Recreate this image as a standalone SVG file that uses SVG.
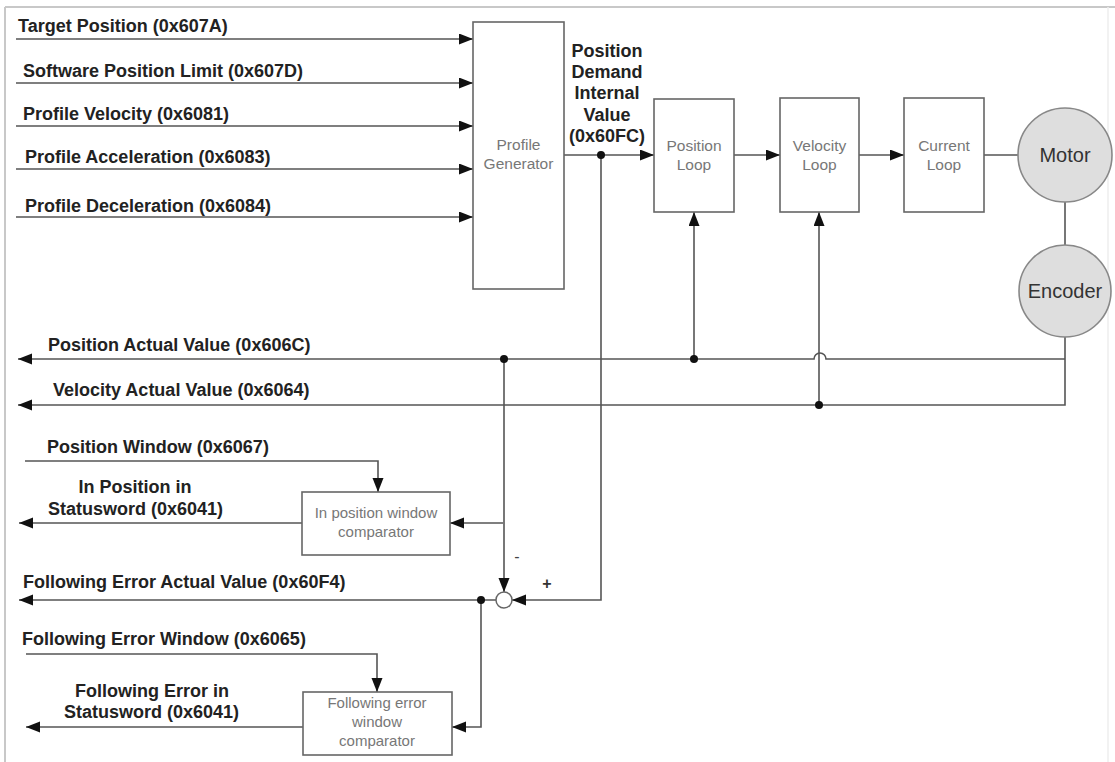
<svg xmlns="http://www.w3.org/2000/svg" width="1115" height="762" viewBox="0 0 1115 762">
<style>
.ln{fill:none;stroke:#555;stroke-width:1.6}
.bx{fill:#fff;stroke:#666;stroke-width:1.6}
.cir{fill:#dedede;stroke:#888;stroke-width:1.6}
.lb{font-family:"Liberation Sans",Arial,sans-serif;font-weight:bold;font-size:18px;fill:#222}
.bt{font-family:"Liberation Sans",Arial,sans-serif;font-size:15.5px;fill:#777;text-anchor:middle}
.ct{font-family:"Liberation Sans",Arial,sans-serif;font-size:15px;fill:#777;text-anchor:middle}
.mt{font-family:"Liberation Sans",Arial,sans-serif;font-size:20px;fill:#333;text-anchor:middle}
.dot{fill:#111}
</style>
<defs>
<marker id="arr" markerUnits="userSpaceOnUse" markerWidth="15" markerHeight="12" refX="14" refY="5.5" orient="auto">
<path d="M0,0 L14,5.5 L0,11 z" fill="#111"/>
</marker>
</defs>
<rect width="1115" height="762" fill="#fff"/>
<g id="frame">
<line x1="5" y1="7" x2="1115" y2="7" stroke="#c8c8c8" stroke-width="2"/>
<line x1="5" y1="7" x2="5" y2="762" stroke="#c8c8c8" stroke-width="2"/>
<line x1="1108" y1="7" x2="1108" y2="762" stroke="#eee" stroke-width="1.5"/>
</g>
<g id="connectors">
<line class="ln" x1="16" y1="39" x2="473" y2="39" marker-end="url(#arr)"/>
<line class="ln" x1="16" y1="83" x2="473" y2="83" marker-end="url(#arr)"/>
<line class="ln" x1="16" y1="126" x2="473" y2="126" marker-end="url(#arr)"/>
<line class="ln" x1="16" y1="169" x2="473" y2="169" marker-end="url(#arr)"/>
<line class="ln" x1="16" y1="217" x2="473" y2="217" marker-end="url(#arr)"/>
<line class="ln" x1="564" y1="155" x2="654" y2="155" marker-end="url(#arr)"/>
<line class="ln" x1="734" y1="155" x2="780" y2="155" marker-end="url(#arr)"/>
<line class="ln" x1="859" y1="155" x2="904" y2="155" marker-end="url(#arr)"/>
<line class="ln" x1="984" y1="155" x2="1018" y2="155"/>
<line class="ln" x1="1065" y1="202" x2="1065" y2="245"/>
<path class="ln" d="M1065,337 V405 H18" marker-end="url(#arr)"/>
<path class="ln" d="M1065,359 H826 A6,6 0 0 0 814,359 H18" marker-end="url(#arr)"/>
<path class="ln" d="M694,359 V212" marker-end="url(#arr)"/>
<path class="ln" d="M819,405 V212" marker-end="url(#arr)"/>
<path class="ln" d="M601,155 V600 H512" marker-end="url(#arr)"/>
<path class="ln" d="M504,359 V592" marker-end="url(#arr)"/>
<path class="ln" d="M503,523 H450" marker-end="url(#arr)"/>
<path class="ln" d="M302,523 H19" marker-end="url(#arr)"/>
<path class="ln" d="M25,461 H378 V492" marker-end="url(#arr)"/>
<path class="ln" d="M496,600 H19" marker-end="url(#arr)"/>
<path class="ln" d="M481,600 V727 H452" marker-end="url(#arr)"/>
<path class="ln" d="M26,654 H377 V692" marker-end="url(#arr)"/>
<path class="ln" d="M303,727 H26" marker-end="url(#arr)"/>
<circle class="dot" cx="601" cy="155" r="4"/>
<circle class="dot" cx="504" cy="359" r="4"/>
<circle class="dot" cx="694" cy="359" r="4"/>
<circle class="dot" cx="819" cy="405" r="4"/>
<circle class="dot" cx="481" cy="600" r="4"/>
</g>
<g id="labels">
<text class="lb" x="18" y="32">Target Position (0x607A)</text>
<text class="lb" x="23" y="77">Software Position Limit (0x607D)</text>
<text class="lb" x="23" y="120">Profile Velocity (0x6081)</text>
<text class="lb" x="25" y="163">Profile Acceleration (0x6083)</text>
<text class="lb" x="25" y="212">Profile Deceleration (0x6084)</text>
<text class="lb" x="607" y="57" text-anchor="middle">Position</text>
<text class="lb" x="607" y="78" text-anchor="middle">Demand</text>
<text class="lb" x="607" y="99" text-anchor="middle">Internal</text>
<text class="lb" x="607" y="121" text-anchor="middle">Value</text>
<text class="lb" x="607" y="142" text-anchor="middle">(0x60FC)</text>
<text class="lb" x="48" y="351">Position Actual Value (0x606C)</text>
<text class="lb" x="53" y="396">Velocity Actual Value (0x6064)</text>
<text class="lb" x="47" y="453">Position Window (0x6067)</text>
<text class="lb" x="135" y="493" text-anchor="middle">In Position in</text>
<text class="lb" x="48" y="515">Statusword (0x6041)</text>
<text class="lb" x="23" y="588">Following Error Actual Value (0x60F4)</text>
<text class="lb" x="22" y="645">Following Error Window (0x6065)</text>
<text class="lb" x="152" y="697" text-anchor="middle">Following Error in</text>
<text class="lb" x="64" y="718">Statusword (0x6041)</text>
<text x="517" y="562" font-family="Liberation Sans, Arial, sans-serif" font-size="16" fill="#444" text-anchor="middle">-</text>
<text x="547" y="589" font-family="Liberation Sans, Arial, sans-serif" font-size="16" font-weight="bold" fill="#333" text-anchor="middle">+</text>
</g>
<g id="profile-generator">
<rect class="bx" x="473" y="22" width="91" height="267"/>
<text class="bt" x="518.5" y="150">Profile</text>
<text class="bt" x="518.5" y="169">Generator</text>
</g>
<g id="position-loop">
<rect class="bx" x="654" y="99" width="80" height="113"/>
<text class="bt" x="694" y="151">Position</text>
<text class="bt" x="694" y="170">Loop</text>
</g>
<g id="velocity-loop">
<rect class="bx" x="780" y="98" width="79" height="114"/>
<text class="bt" x="819.5" y="151">Velocity</text>
<text class="bt" x="819.5" y="170">Loop</text>
</g>
<g id="current-loop">
<rect class="bx" x="904" y="98" width="80" height="114"/>
<text class="bt" x="944" y="151">Current</text>
<text class="bt" x="944" y="170">Loop</text>
</g>
<g id="motor">
<circle class="cir" cx="1065" cy="155" r="47"/>
<text class="mt" x="1065" y="162">Motor</text>
</g>
<g id="encoder">
<circle class="cir" cx="1065" cy="291" r="46"/>
<text class="mt" x="1065" y="298">Encoder</text>
</g>
<g id="summing-junction">
<circle cx="504" cy="600" r="8" fill="#fff" stroke="#666" stroke-width="1.5"/>
</g>
<g id="in-position-comparator">
<rect class="bx" x="302" y="492" width="148" height="63"/>
<text class="ct" x="376" y="518">In position window</text>
<text class="ct" x="376" y="537">comparator</text>
</g>
<g id="following-error-comparator">
<rect class="bx" x="303" y="692" width="149" height="63"/>
<text class="ct" x="377" y="708">Following error</text>
<text class="ct" x="377" y="727">window</text>
<text class="ct" x="377" y="746">comparator</text>
</g>
</svg>
